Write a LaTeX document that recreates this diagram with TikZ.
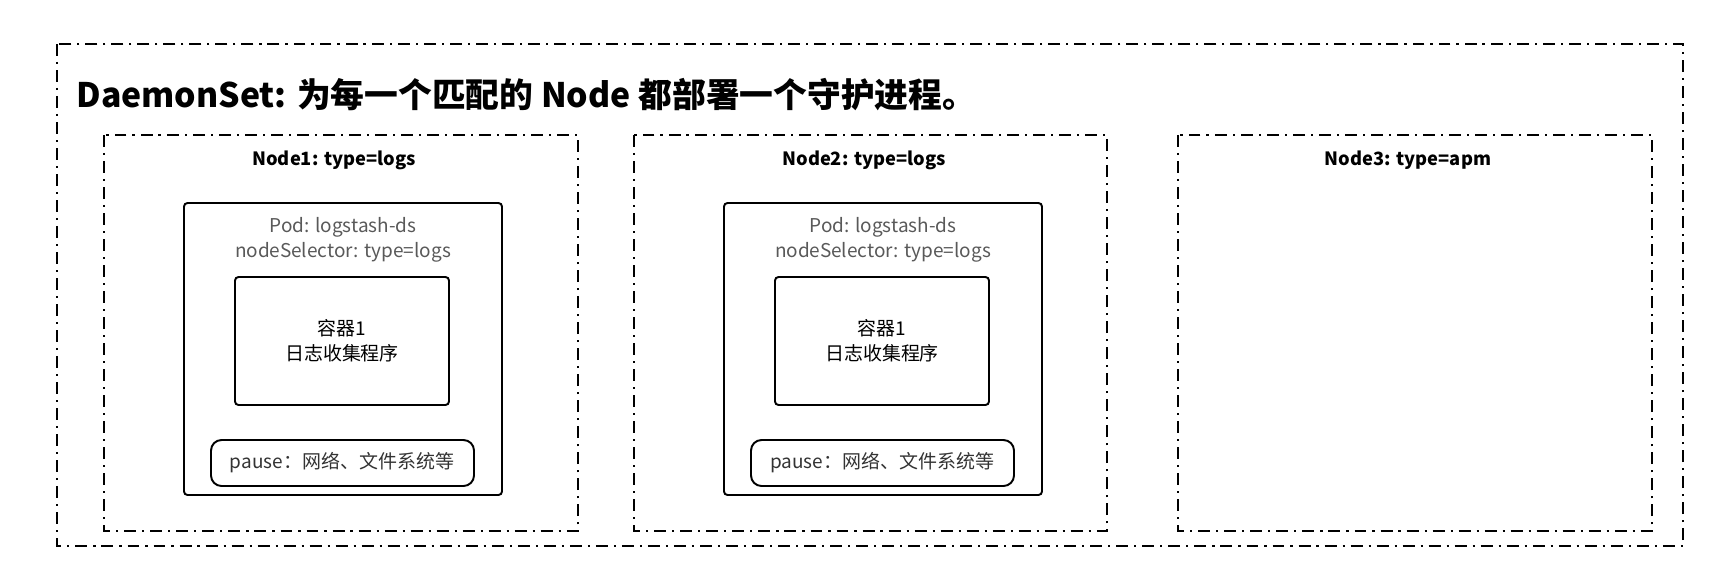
\documentclass[tikz,border=0pt]{standalone}
\usepackage{fontspec}
\setmainfont{Noto Sans CJK SC}
\usetikzlibrary{calc}
\tikzset{
  dashdot box/.style={draw, line width=0.55pt, dash pattern=on 3.4pt off 1.7pt on 0.6pt off 1.7pt},
  pod box/.style={draw, line width=0.55pt, rounded corners=1pt},
  node title/.style={font=\bfseries\fontsize{5.2}{6}\selectfont},
  pod text/.style={text=black!65, font=\fontsize{5.4}{7}\selectfont, align=center}
}
\begin{document}
\begin{tikzpicture}[x=0.01cm, y=-0.01cm]
    \useasboundingbox (0,0) rectangle (1727,581);
    \draw[dashdot box] (57,44) rectangle (1683,546);
    \node (title) at (64,95) [anchor=west, font=\bfseries\fontsize{9.6}{11}\selectfont]
        {DaemonSet: 为每一个匹配的 Node 都部署一个守护进程。};

    \draw[dashdot box] (104,135) rectangle (578,531);
    \node (N1) at (334,160) [node title] {Node1: type=logs};
    \draw[dashdot box] (634,135) rectangle (1107,531);
    \node (N2) at (864,160) [node title] {Node2: type=logs};
    \draw[dashdot box] (1178,135) rectangle (1652,531);
    \node (N3) at (1408,160) [node title] {Node3: type=apm};

    \foreach \dx/\name in {0/A, 540/B} {
        \draw[pod box] (184+\dx,203) rectangle (502+\dx,495);
        \node (pod\name) at (343+\dx,240) [pod text] {Pod: logstash-ds\\nodeSelector: type=logs};
        \draw[pod box] (235+\dx,277) rectangle (449+\dx,405);
        \node (box\name) at (342+\dx,341) [pod text, text=black] {容器1\\日志收集程序};
        \draw[pod box, rounded corners=3pt] (211+\dx,440) rectangle (474+\dx,486);
        \node (pause\name) at (342+\dx,463) [pod text, text=black!80] {pause：网络、文件系统等};
    }
\end{tikzpicture}
\end{document}
